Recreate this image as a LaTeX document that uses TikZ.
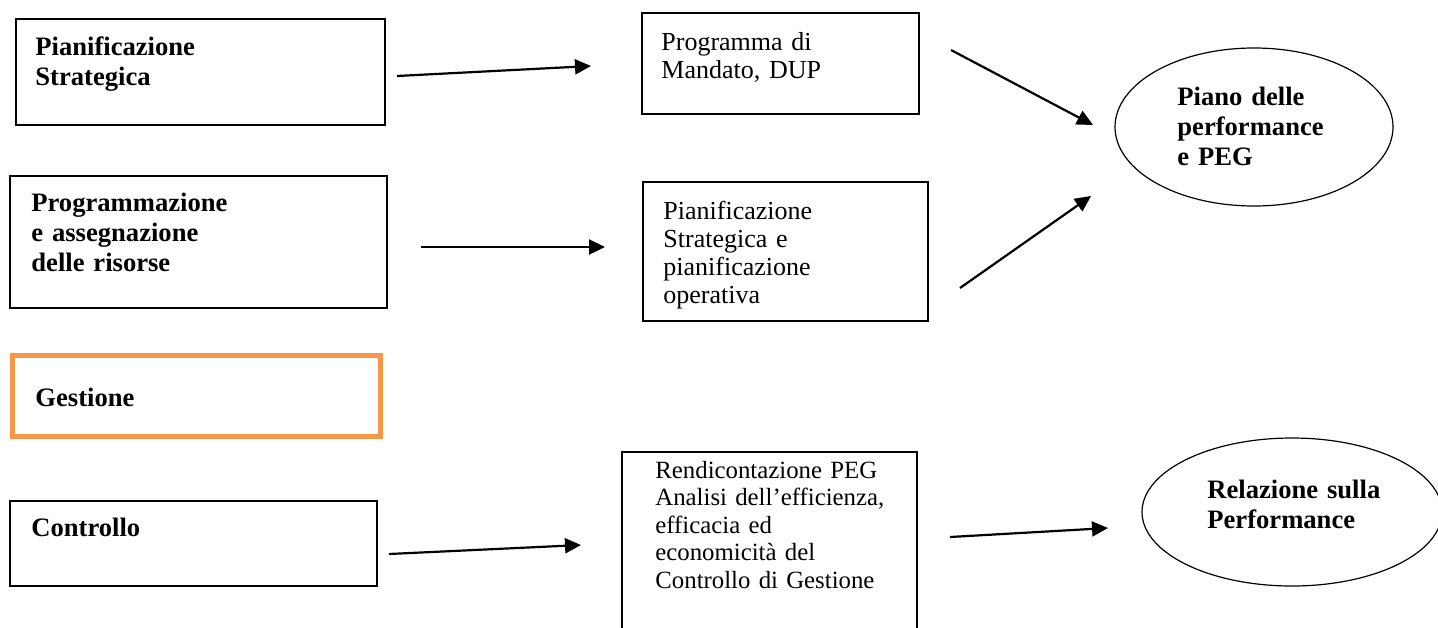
\documentclass[tikz,border=0pt]{standalone}
\usepackage{fontspec}
\setmainfont{Liberation Serif}
\usetikzlibrary{fit,shapes.geometric,arrows.meta}
\definecolor{offorange}{HTML}{F79646}
\tikzset{
  box/.style={draw=black, line width=0.8pt, inner sep=0pt},
  orangebox/.style={draw=offorange, line width=2.5pt, inner sep=0pt},
  oval/.style={ellipse, draw=black, line width=0.6pt, inner sep=0pt},
  boldtxt/.style={anchor=base west, inner sep=0pt, text width=200pt, align=left,
    font=\fontsize{13.3}{15}\selectfont\bfseries},
  plaintxt/.style={anchor=base west, inner sep=0pt, text width=200pt, align=left,
    font=\fontsize{13}{14}\selectfont},
  smalltxt/.style={anchor=base west, inner sep=0pt, text width=200pt, align=left,
    font=\fontsize{12.4}{13.75}\selectfont},
  conn/.style={line width=1.1pt, -{Triangle[length=8pt,width=7.5pt]}}
}
\begin{document}
\begin{tikzpicture}[x=0.5pt,y=-0.5pt]
\clip (0,0) rectangle (1438,627);
\fill[white] (0,0) rectangle (1438,627);
% left column
\node[box, fit={(16,19) (385,125)}] (A) {};
\node[boldtxt] (At) at (35,55) {Pianificazione\\Strategica};
\node[box, fit={(10,176) (387,308)}] (B) {};
\node[boldtxt] (Bt) at (31,211) {Programmazione\\e assegnazione\\delle risorse};
\node[orangebox, fit={(12.5,355.5) (380,436.5)}] (C) {};
\node[boldtxt] (Ct) at (35,406) {Gestione};
\node[box, fit={(10,501) (377,586)}] (D) {};
\node[boldtxt] (Dt) at (31,536) {Controllo};
% middle column
\node[box, fit={(642,13) (919,114)}] (E) {};
\node[plaintxt] (Et) at (661,50) {Programma di\\Mandato, DUP};
\node[box, fit={(643,182) (928,321)}] (F) {};
\node[plaintxt] (Ft) at (663,219) {Pianificazione\\Strategica e\\pianificazione\\operativa};
\node[box, fit={(622,452) (917,660)}] (G) {};
\node[smalltxt] (Gt) at (655,478) {Rendicontazione PEG\\Analisi dell’efficienza,\\efficacia ed\\economicità del\\Controllo di Gestione};
% right column
\node[oval, minimum width=139pt, minimum height=79pt] (H) at (1254,127) {};
\node[boldtxt] (Ht) at (1177,105) {Piano delle\\performance\\e PEG};
\node[oval, minimum width=150pt, minimum height=74pt] (I) at (1292,512) {};
\node[boldtxt] (It) at (1207,498) {Relazione sulla\\Performance};
% connector ends
\coordinate (a1s) at (397,76);  \coordinate (a1e) at (591,66);
\coordinate (a2s) at (421,247); \coordinate (a2e) at (605,247);
\coordinate (a3s) at (951,50);  \coordinate (a3e) at (1093,125);
\coordinate (a4s) at (960,288); \coordinate (a4e) at (1091,196);
\coordinate (a5s) at (389,554); \coordinate (a5e) at (581,545);
\coordinate (a6s) at (950,537); \coordinate (a6e) at (1108,528);
\draw[conn] (a1s) -- (a1e);
\draw[conn] (a2s) -- (a2e);
\draw[conn] (a3s) -- (a3e);
\draw[conn] (a4s) -- (a4e);
\draw[conn] (a5s) -- (a5e);
\draw[conn] (a6s) -- (a6e);
\end{tikzpicture}
\end{document}
